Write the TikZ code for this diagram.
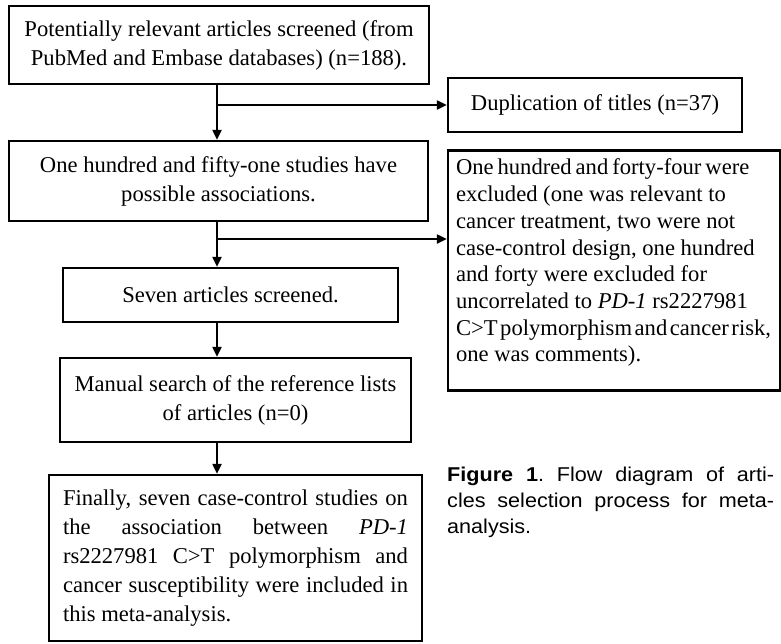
\documentclass[tikz,border=0pt]{standalone}
\usepackage{fontspec}
\setmainfont{Liberation Serif}
\newfontfamily\capfont[FakeStretch=1.08]{Liberation Sans}
\usetikzlibrary{arrows.meta,calc}
\begin{document}
\begin{tikzpicture}[x=1pt,y=-1pt,
  box/.style={draw, line width=2.4pt, align=center, inner sep=4pt,
    font=\fontsize{22.6}{29}\selectfont},
  arr/.style={line width=2.2pt, -{Triangle[length=10pt,width=9pt]}}]
\useasboundingbox (0,0) rectangle (781,643);
\node[box, minimum width=420pt, minimum height=78pt] (b1) at (219,45)
  {Potentially relevant articles screened (from\\PubMed and Embase databases) (n=188).};
\node[box, minimum width=294pt, minimum height=54pt] (dup) at (595,105)
  {Duplication of titles (n=37)};
\node[box, minimum width=419pt, minimum height=80pt] (b2) at (218.5,181)
  {One hundred and fifty-one studies have\\possible associations.};
\node[box, minimum width=332pt, minimum height=240pt] (ex) at (614,270.5) {};
\node[anchor=north west, align=left, inner sep=0pt,
  font=\fontsize{22.6}{26.7}\selectfont] (extext) at ($(ex.north west)+(9,9.5)$)
  {\spaceskip=4pt\relax One hundred and forty-four were\\
   excluded (one was relevant to\\
   cancer treatment, two were not\\
   case-control design, one hundred\\
   and forty were excluded for\\
   uncorrelated to \textit{PD-1} rs2227981\\
   {\spaceskip=2.6pt\relax C>T polymorphism and cancer risk,}\\
   one was comments).};
\node[box, minimum width=335pt, minimum height=54pt] (b3) at (230.5,295)
  {Seven articles screened.};
\node[box, minimum width=351pt, minimum height=84pt] (b4) at (235.5,400)
  {Manual search of the reference lists\\of articles (n=0)};
\node[box, minimum width=373pt, minimum height=166pt, text width=345pt, inner xsep=14pt,
  align=justify] (b5) at (235.5,558)
  {Finally, seven case-control studies on\linebreak
   the association between \textit{PD-1}\linebreak
   rs2227981 C>T polymorphism and\linebreak
   cancer susceptibility were included in\linebreak
   this meta-analysis.};
\node[anchor=north west, text width=327pt, align=justify, inner sep=0pt,
  font=\capfont\fontsize{20}{26}\selectfont\frenchspacing] (cap) at (447,466.5)
  {\textbf{Figure 1}. Flow diagram of arti-\linebreak
   cles selection process for meta-\linebreak
   analysis.};
\coordinate (ax) at (217,0);
\coordinate (j2) at (217,239);
\draw[arr] (b1.south -| ax) -- (b2.north -| ax);
\draw[arr] (ax |- dup.west) -- (dup.west);
\draw[arr] (b2.south -| ax) -- (b3.north -| ax);
\draw[arr] (j2) -- (j2 -| ex.west);
\draw[arr] (b3.south -| ax) -- (b4.north -| ax);
\draw[arr] (b4.south -| ax) -- (b5.north -| ax);
\end{tikzpicture}
\end{document}
